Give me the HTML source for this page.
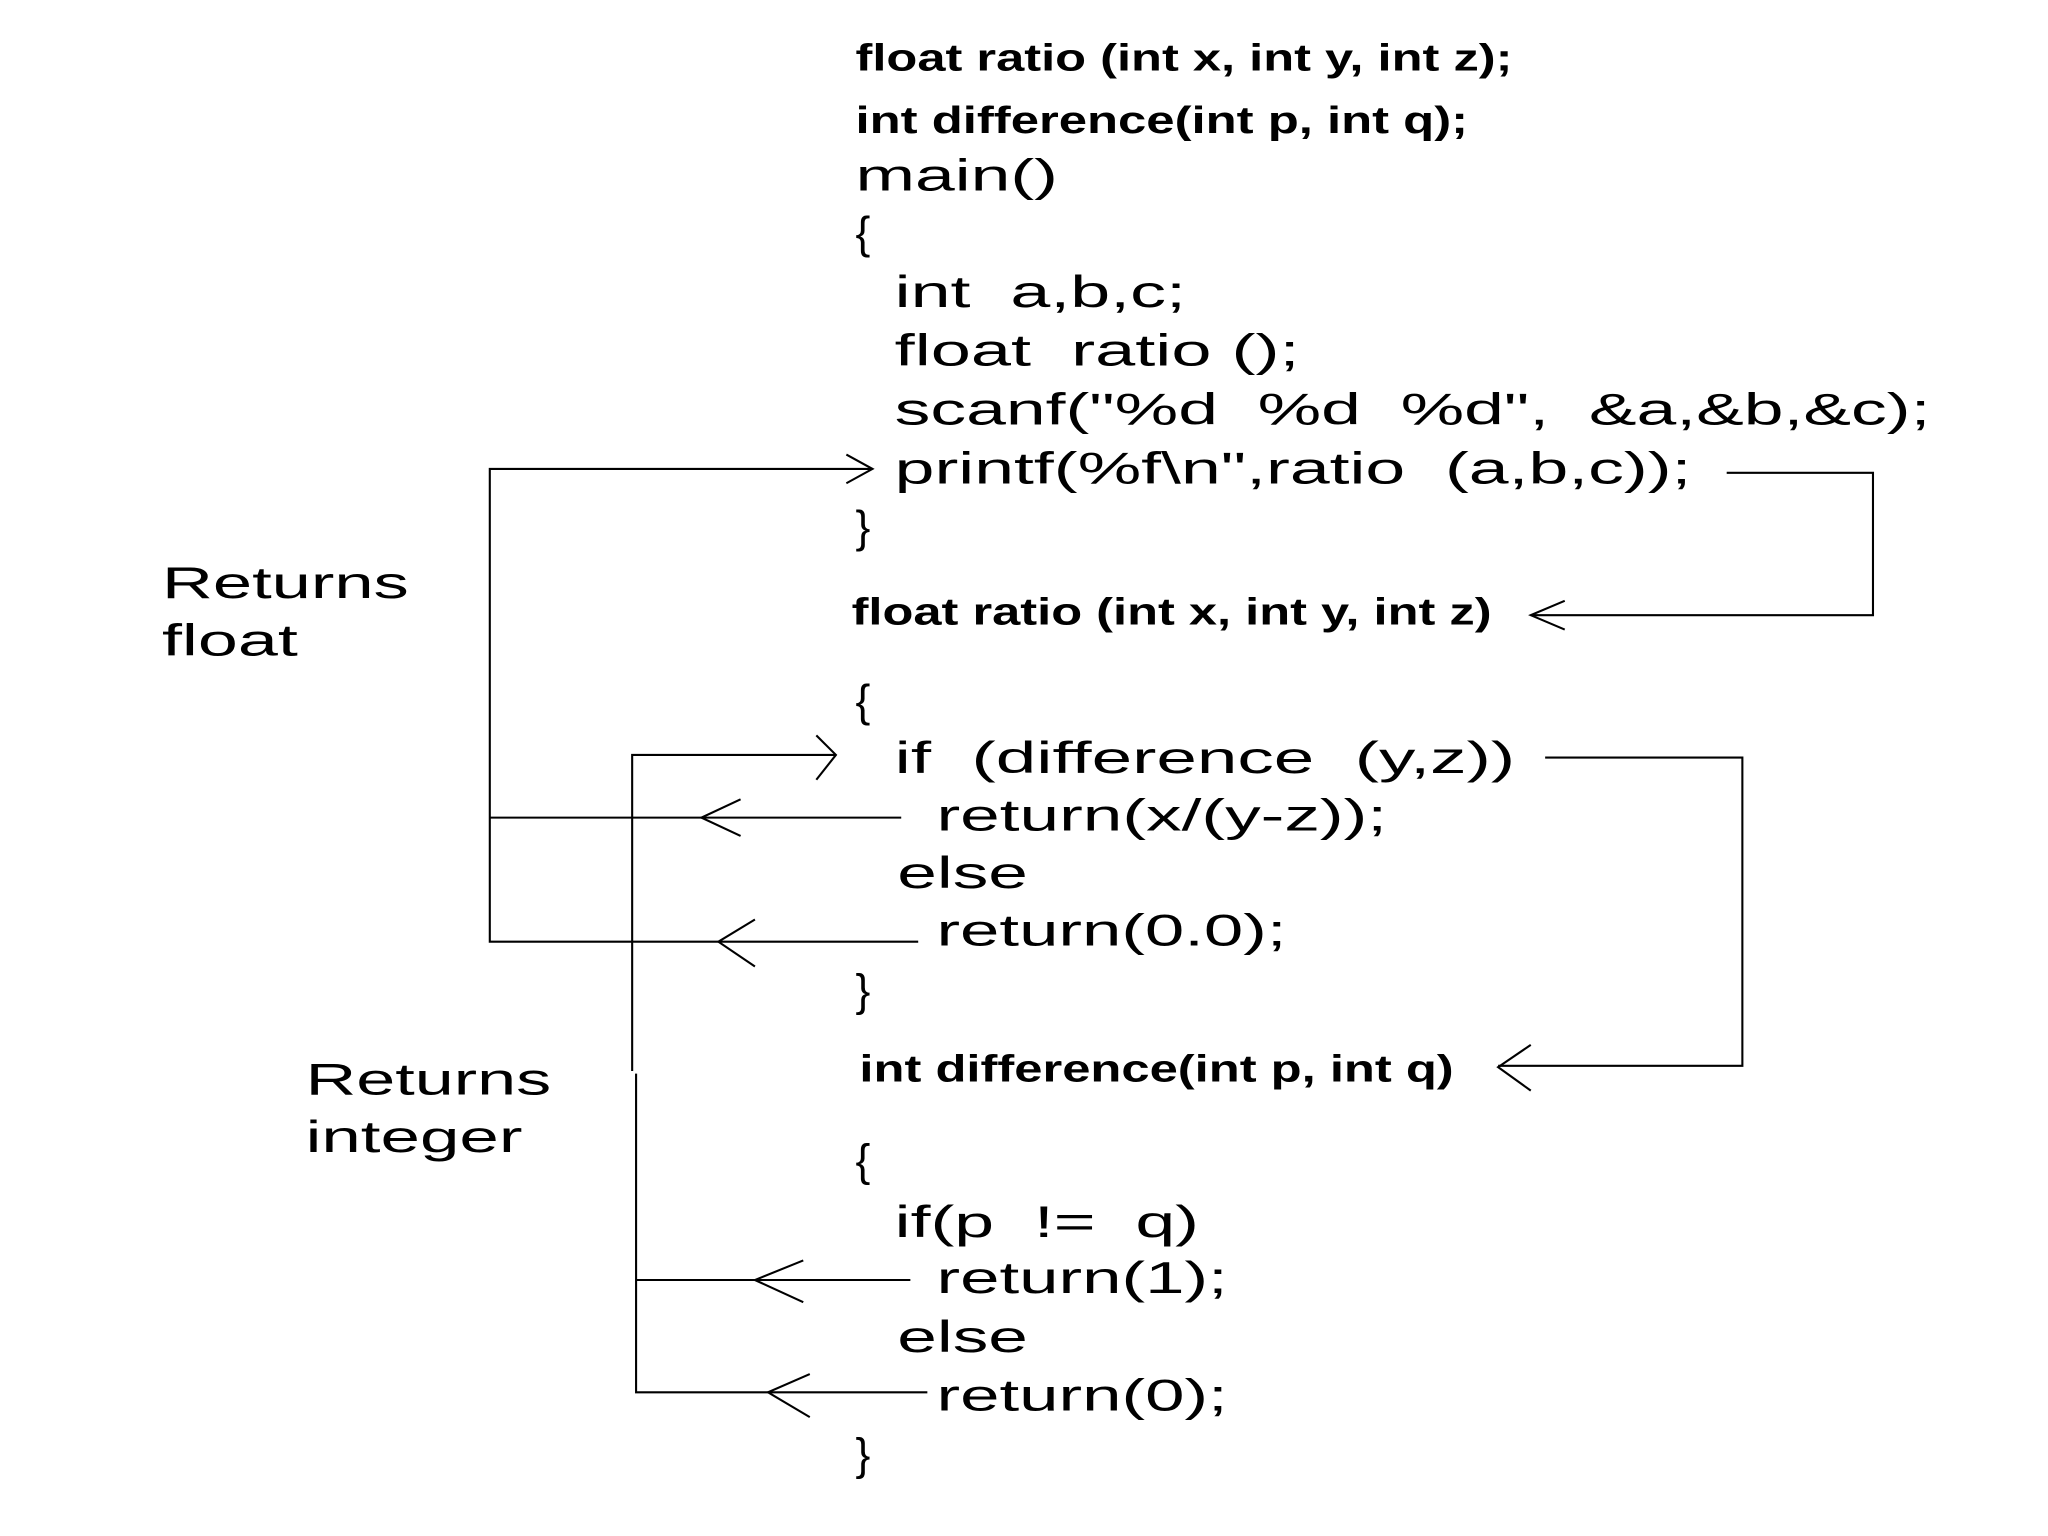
<!DOCTYPE html>
<html><head><meta charset="utf-8"><style>
html,body{margin:0;padding:0;background:#fff;}
svg{display:block;}
.b{font-family:"Liberation Sans",sans-serif;font-weight:bold;font-size:29px;fill:#000;}
.r{font-family:"Liberation Sans",sans-serif;font-size:34px;fill:#000;}
.l{fill:none;stroke:#000;stroke-width:1.6;}
</style></head><body>
<svg width="2048" height="1536" viewBox="0 0 1568 1176" xmlns="http://www.w3.org/2000/svg">
<rect width="1568" height="1176" fill="#fff"/>
<text class="b" x="655" y="54" textLength="503" lengthAdjust="spacingAndGlyphs">float ratio (int x, int y, int z);</text>
<text class="b" x="655" y="102" textLength="469" lengthAdjust="spacingAndGlyphs">int difference(int p, int q);</text>
<text class="r" x="655" y="146" textLength="155" lengthAdjust="spacingAndGlyphs">main()</text>
<text class="r" x="655" y="190">{</text>
<text class="r" x="685" y="235" textLength="223" lengthAdjust="spacingAndGlyphs" xml:space="preserve">int  a,b,c;</text>
<text class="r" x="685" y="280" textLength="310" lengthAdjust="spacingAndGlyphs" xml:space="preserve">float  ratio ();</text>
<text class="r" x="685" y="325" textLength="793" lengthAdjust="spacingAndGlyphs" xml:space="preserve">scanf("%d  %d  %d",  &amp;a,&amp;b,&amp;c);</text>
<text class="r" x="685" y="370" textLength="610" lengthAdjust="spacingAndGlyphs" xml:space="preserve">printf(%f\n",ratio  (a,b,c));</text>
<text class="r" x="655" y="415">}</text>
<text class="b" x="652" y="478" textLength="490" lengthAdjust="spacingAndGlyphs">float ratio (int x, int y, int z)</text>
<text class="r" x="655" y="548">{</text>
<text class="r" x="685" y="592" textLength="475" lengthAdjust="spacingAndGlyphs" xml:space="preserve">if  (difference  (y,z))</text>
<text class="r" x="717" y="636" textLength="345" lengthAdjust="spacingAndGlyphs">return(x/(y-z));</text>
<text class="r" x="687" y="680" textLength="100" lengthAdjust="spacingAndGlyphs">else</text>
<text class="r" x="717" y="724" textLength="268" lengthAdjust="spacingAndGlyphs">return(0.0);</text>
<text class="r" x="655" y="770">}</text>
<text class="b" x="658" y="828" textLength="455" lengthAdjust="spacingAndGlyphs">int difference(int p, int q)</text>
<text class="r" x="655" y="900">{</text>
<text class="r" x="685" y="947" textLength="233" lengthAdjust="spacingAndGlyphs" xml:space="preserve">if(p  !=  q)</text>
<text class="r" x="717" y="990" textLength="223" lengthAdjust="spacingAndGlyphs">return(1);</text>
<text class="r" x="687" y="1035" textLength="100" lengthAdjust="spacingAndGlyphs">else</text>
<text class="r" x="717" y="1080" textLength="223" lengthAdjust="spacingAndGlyphs">return(0);</text>
<text class="r" x="655" y="1125">}</text>
<text class="r" x="124" y="458" textLength="189" lengthAdjust="spacingAndGlyphs">Returns</text>
<text class="r" x="124" y="502" textLength="104" lengthAdjust="spacingAndGlyphs">float</text>
<text class="r" x="234" y="838" textLength="188" lengthAdjust="spacingAndGlyphs">Returns</text>
<text class="r" x="234" y="882" textLength="166" lengthAdjust="spacingAndGlyphs">integer</text>

<polyline class="l" points="668,359 375,359 375,721 703,721"/>
<polyline class="l" points="648,348 668,359 648,370"/>
<line class="l" x1="375" y1="626" x2="690" y2="626"/>
<polyline class="l" points="567,612 537,626 567,640"/>
<polyline class="l" points="578,704 550,721 578,740"/>
<polyline class="l" points="1322,362 1434,362 1434,471 1172,471"/>
<polyline class="l" points="1198,460 1172,471 1198,482"/>
<polyline class="l" points="1183,580 1334,580 1334,816 1147,816"/>
<polyline class="l" points="1172,800 1147,817 1172,835"/>
<polyline class="l" points="640,578 484,578 484,820"/>
<polyline class="l" points="625,563 640,578 625,597"/>
<polyline class="l" points="487,822 487,1066 710,1066"/>
<line class="l" x1="487" y1="980" x2="697" y2="980"/>
<polyline class="l" points="615,965 578,980 615,997"/>
<polyline class="l" points="620,1052 588,1066 620,1085"/>
</svg>
</body></html>
